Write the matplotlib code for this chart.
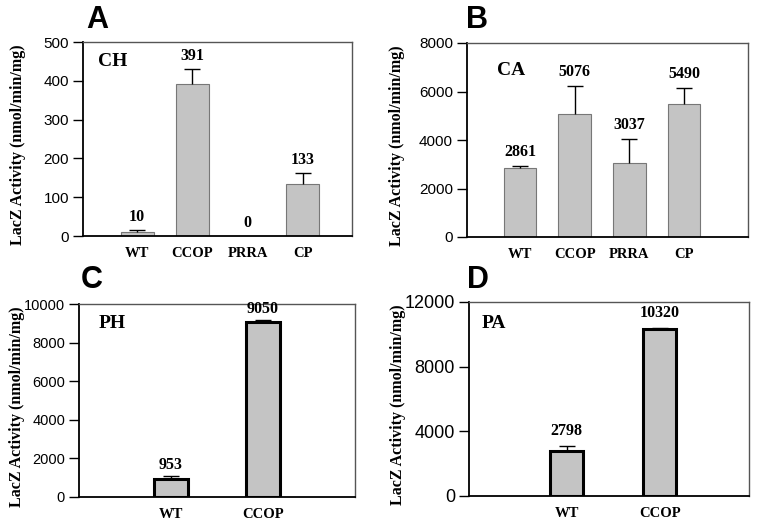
import numpy as np
import matplotlib
matplotlib.use('Agg')
import matplotlib.pyplot as plt

# 数据
cats_a = ['WT', 'CCOP', 'PRRA', 'CP']
vals_a = [10, 391, 0, 133]
errs_a = [5, 39, 0, 29]

cats_b = ['WT', 'CCOP', 'PRRA', 'CP']
vals_b = [2861, 5076, 3037, 5490]
errs_b = [80, 1150, 1000, 650]

cats_c = ['WT', 'CCOP']
vals_c = [953, 9050]
errs_c = [150, 100]

cats_d = ['WT', 'CCOP']
vals_d = [2798, 10320]
errs_d = [300, 80]

W, H = 761, 525
SERIF = 'Liberation Serif'
SANS = 'Liberation Sans'
BAR_COLOR = '#c4c4c4'

fig = plt.figure(figsize=(W / 100, H / 100), dpi=100)


def px_axes(left, right, top, bottom):
    return fig.add_axes([left / W, 1 - bottom / H, (right - left) / W, (bottom - top) / H])


def panel(box, cats, vals, errs, ymax, yticks, tag, tag_pos, letter, letter_pos,
          width, xlim, heavy, tick_fs, label_x, offs):
    ax = px_axes(*box)
    x = np.arange(len(cats))
    vals = np.array(vals)
    errs = np.array(errs)
    if heavy:
        ax.bar(x, vals, width=width, color=BAR_COLOR, edgecolor='black', linewidth=2.2, zorder=2)
    else:
        ax.bar(x, vals, width=width, color=BAR_COLOR, edgecolor='#777777', linewidth=0.8, zorder=2)
    # 误差棒只向上
    top = vals + errs
    has_err = errs > 0
    ax.vlines(x[has_err], vals[has_err], top[has_err], color='black', linewidth=1, zorder=3)
    ax.plot(x[has_err], top[has_err], linestyle='none', marker='_', markersize=11,
            markeredgewidth=1, color='black', zorder=3)
    for xi, v, t in zip(x, vals, top):
        ax.annotate(str(v), (xi, t), xytext=(0, offs), textcoords='offset pixels',
                    ha='center', va='center', fontsize=11.5, fontweight='bold',
                    family=SERIF, annotation_clip=False)
    ax.set_xlim(*xlim)
    ax.set_ylim(0, ymax)
    ax.set_yticks(yticks)
    ax.set_yticklabels([str(t) for t in yticks], family=SANS, fontsize=tick_fs)
    ax.set_xticks(x)
    ax.set_xticklabels(cats, family=SERIF, fontweight='bold', fontsize=10.5)
    ax.tick_params(axis='x', length=0, pad=8)
    ax.tick_params(axis='y', length=7, width=1, direction='out', pad=3)
    for s in ('left', 'bottom'):
        ax.spines[s].set_linewidth(1.3)
        ax.spines[s].set_color('black')
    for s in ('top', 'right'):
        ax.spines[s].set_linewidth(1.0)
        ax.spines[s].set_color('#555555')
    ax.set_ylabel('LacZ Activity (nmol/min/mg)', family=SERIF, fontweight='bold', fontsize=11.5)
    ax.yaxis.set_label_coords(label_x, 0.47)
    ax.text(tag_pos[0], tag_pos[1], tag, transform=ax.transAxes, family=SERIF,
            fontweight='bold', fontsize=14, ha='left', va='center')
    fig.text(letter_pos[0] / W, 1 - letter_pos[1] / H, letter, family=SANS,
             fontweight='bold', fontsize=22, ha='left', va='center')
    return ax


panel((83, 352, 42, 236), cats_a, vals_a, errs_a, 500, [0, 100, 200, 300, 400, 500],
      'CH', (0.055, 0.9), 'A', (86, 20), 0.6, (-0.98, 3.89), False, 11, -0.213, 13)
panel((467, 748, 43, 237), cats_b, vals_b, errs_b, 8000, [0, 2000, 4000, 6000, 8000],
      'CA', (0.105, 0.86), 'B', (466, 20), 0.6, (-0.97, 4.17), False, 11, -0.22, 14)
panel((79, 355, 304, 497), cats_c, vals_c, errs_c, 10000, [0, 2000, 4000, 6000, 8000, 10000],
      'PH', (0.07, 0.9), 'C', (81, 280), 0.36, (-1.0, 2.0), True, 10.5, -0.195, 11)
panel((469, 749, 302, 496), cats_d, vals_d, errs_d, 12000, [0, 4000, 8000, 12000],
      'PA', (0.045, 0.89), 'D', (467, 280), 0.36, (-1.05, 1.96), True, 13, -0.225, 15)

fig.savefig('out.png', dpi=100)
